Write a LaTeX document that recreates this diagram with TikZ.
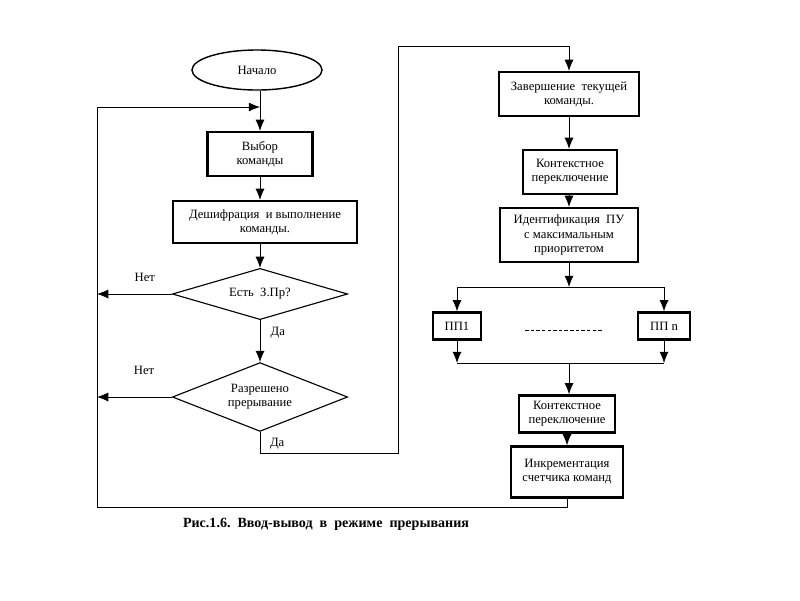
\documentclass[tikz,border=0pt]{standalone}
\usepackage{fontspec}
\setmainfont{Liberation Serif}
\usetikzlibrary{shapes.geometric,arrows.meta}

\begin{document}
\begin{tikzpicture}[x=0.025cm, y=-0.025cm,
        font=\fontsize{9pt}{10pt}\selectfont,
        box/.style = {draw, line width=1.6pt, align=center, inner sep=2pt},
        term/.style = {draw, ellipse, line width=1pt, minimum width=3.25cm, minimum height=1cm},
        test/.style = {draw, diamond, line width=0.8pt, align=center, inner sep=0pt, minimum width=4.38cm},
        arr/.style = {-{Latex[length=8pt, width=6.5pt]}},
        line width=0.6pt]
        \useasboundingbox (0,0) rectangle (800,600);

        % left column
        \node[term] (start) at (257,70) {Начало};
        \node[box, minimum width=2.62cm, minimum height=1.1cm] (choose) at (260,154) {Выбор\\команды};
        \node[box, minimum width=4.6cm, minimum height=1.05cm] (decode) at (265,222) {Дешифрация~~и выполнение\\команды.};
        \node[test, aspect=4, minimum height=1.28cm] (req) at (260,294) {Есть~~З.Пр?};
        \node[test, aspect=2.6, minimum height=1.72cm] (allow) at (260,397) {Разрешено\\прерывание};

        % right column
        \node[box, minimum width=3.5cm, minimum height=1.1cm] (finish) at (569,94) {Завершение~~текущей\\команды.};
        \node[box, minimum width=2.35cm, minimum height=1.1cm] (ctx) at (570,172) {Контекстное\\переключение};
        \node[box, minimum width=3.45cm, minimum height=1.35cm] (ident) at (569,235) {Идентификация~~ПУ\\с максимальным\\приоритетом};
        \node[box, minimum width=1.2cm, minimum height=0.68cm] (pp1) at (457,326) {ПП1};
        \node[box, minimum width=1.3cm, minimum height=0.68cm] (ppn) at (664,326) {ПП n};
        \node[box, minimum width=2.4cm, minimum height=0.93cm] (ctxb) at (567,414) {Контекстное\\переключение};
        \node[box, minimum width=2.8cm, minimum height=1.28cm] (inc) at (567,472) {Инкрементация\\счетчика команд};

        \coordinate (join) at (260,107);
        \coordinate (loop) at (97,507);
        \coordinate (turn) at (398,453);
        \coordinate (top) at (398,46);
        \coordinate (split) at (569,287);
        \coordinate (merge) at (569,363);

        \draw[arr] (start.south -| choose) -- (choose);
        \draw[arr] (choose) -- (choose |- decode.north);
        \draw[arr] (decode.south -| req) -- (req);
        \draw[arr] (req) -- (allow) node[pos=0.3, right=4pt] {Да};
        \draw[arr] (req.west) -- (req.west -| loop) node[pos=0.36, above=5pt] {Нет};
        \draw[arr] (allow.west) -- (allow.west -| loop) node[pos=0.37, above=12pt] {Нет};
        \draw[arr] (allow.south) |- (turn) |- (top) -| (finish.north);
        \node[anchor=north west] (yes) at (265,433) {Да};

        \draw[arr] (finish) -- (ctx.north -| finish);
        \draw[arr] (ctx.south -| finish) -- (ident);
        \draw[arr] (ident) -- (split);
        \draw (pp1.north |- split) -- (ppn.north |- split);
        \draw[arr] (pp1.north |- split) -- (pp1);
        \draw[arr] (ppn.north |- split) -- (ppn);
        \draw[dashed, dash pattern=on 2.5pt off 1.5pt] (525,330) -- (603,330);
        \draw[arr] (pp1) -- (pp1.south |- merge);
        \draw[arr] (ppn) -- (ppn.south |- merge);
        \draw (pp1.south |- merge) -- (ppn.south |- merge);
        \draw[arr] (merge) -- (ctxb.north -| merge);
        \draw[arr] (ctxb) -- (inc);
        \draw[arr] (inc.south) |- (loop) |- (join);

        \node[font=\fontsize{10pt}{12pt}\selectfont\bfseries] (caption) at (326,524)
            {Рис.1.6.~~Ввод-вывод~~в~~режиме~~прерывания};
\end{tikzpicture}
\end{document}
